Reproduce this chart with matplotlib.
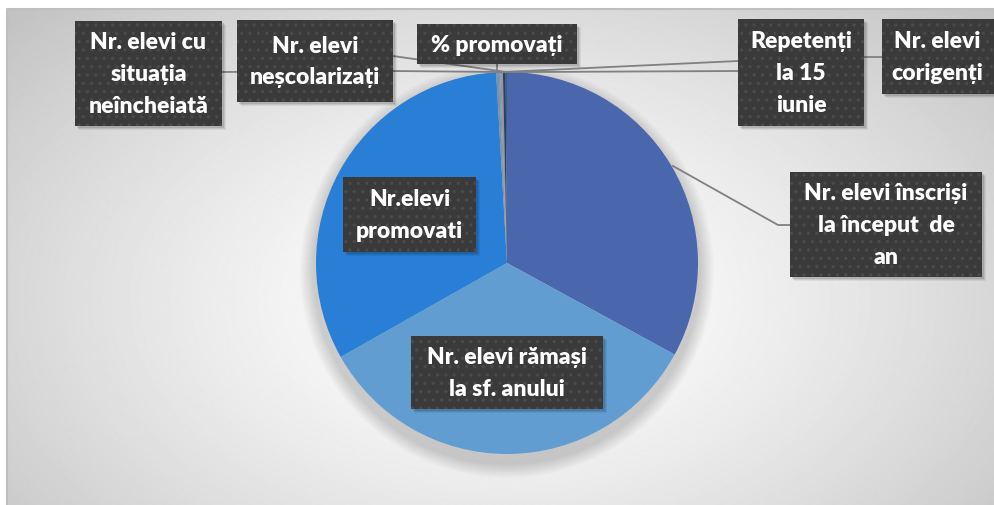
import numpy as np
import matplotlib
matplotlib.use('Agg')
import matplotlib.pyplot as plt
from matplotlib.patches import Rectangle, Circle

# ------------------------------------------------------------
# DATE
# ------------------------------------------------------------
categorii = [
    "Nr. elevi înscriși\nla început  de\nan",
    "Nr. elevi rămași\nla sf. anului",
    "Nr.elevi\npromovati",
    "% promovați",
    "Nr. elevi\ncorigenți",
    "Repetenți\nla 15\niunie",
    "Nr. elevi cu\nsituația\nneîncheiată",
    "Nr. elevi\nneșcolarizați",
]
valori = [290, 298, 284, 2, 1, 2, 2, 1]
culori = ['#4a66ac', '#629dd1', '#297fd5', '#7f8fa9', '#5aa2ae', '#9d90a0',
          '#2c3d67', '#3b5e7d']

W, H = 994, 506
plt.rcParams['hatch.linewidth'] = 1.2
FONT = ['Lato', 'DejaVu Sans']


def Y(py):
    # pixel de sus -> coordonata axei
    return H - py


fig = plt.figure(figsize=(W / 100, H / 100), dpi=100)
fig.patch.set_facecolor('white')
ax = fig.add_axes([0, 0, 1, 1])

# ------------------------------------------------------------
# FUNDAL (gradient radial)
# ------------------------------------------------------------
xx, yy = np.meshgrid(np.arange(7, W + 1), np.arange(10, H + 1))
d = np.sqrt(((xx - 500) / 520.0) ** 2 + ((yy - 300) / 330.0) ** 2)
g = np.clip(1.0 - 0.17 * d ** 1.4, 0, 1)
ax.imshow(g, cmap='gray', vmin=0, vmax=1, extent=[7, W, Y(H), Y(10)],
          origin='upper', zorder=0, interpolation='bilinear')
ax.plot([7, 7, W], [Y(H), Y(10), Y(10)], color='#bfbfbf', lw=1.5, zorder=1)

# ------------------------------------------------------------
# PIE
# ------------------------------------------------------------
cx, cy, r = 507, Y(264), 191
for k in range(14):
    ax.add_patch(Circle((cx, cy - 8), r + 16 - k, color='black', alpha=0.011,
                        lw=0, zorder=2))

wedges, _ = ax.pie(valori, colors=culori, startangle=90, counterclock=False,
                   center=(cx, cy), radius=r, frame=True,
                   wedgeprops=dict(linewidth=0, zorder=3))


def rim(i):
    w = wedges[i]
    a = np.deg2rad((w.theta1 + w.theta2) / 2)
    return cx + r * np.cos(a), cy + r * np.sin(a)


# ------------------------------------------------------------
# LINII DE LEGATURA
# ------------------------------------------------------------
lc = dict(color='#808080', lw=1.3, zorder=4)
ax.plot([673, 778, 790], [Y(167), Y(226), Y(226)], **lc)
x3, y3 = rim(3)
ax.plot([x3, x3], [y3, Y(65)], **lc)
x4, y4 = rim(4)
ax.plot([x4, 738, 850, 882], [y4, Y(72), Y(58), Y(58)], **lc)
x5, y5 = rim(5)
ax.plot([x5, 738], [y5, Y(62)], **lc)
x6, y6 = rim(6)
ax.plot([x6, 393, 222], [y6, Y(72), Y(73)], **lc)
x7, y7 = rim(7)
ax.plot([x7, 393], [y7, Y(57)], **lc)

# ------------------------------------------------------------
# ETICHETE
# ------------------------------------------------------------
casete = [
    (790, 173, 982, 278),
    (411, 337, 603, 410),
    (343, 178, 476, 253),
    (417, 25, 577, 65),
    (882, 20, 1000, 95),
    (738, 20, 864, 127),
    (75, 22, 222, 127),
    (237, 21, 393, 103),
]
for txt, (l, t, rr, b) in zip(categorii, casete):
    for k, a in enumerate([0.10, 0.08, 0.06]):
        ax.add_patch(Rectangle((l + 2 + k, Y(b) - 2 - k), rr - l, b - t,
                               color='black', alpha=a, lw=0, zorder=5))
    ax.add_patch(Rectangle((l, Y(b)), rr - l, b - t, facecolor='#3a3a3a',
                           edgecolor='#4a4a4a', hatch='..', lw=0, zorder=6))
    xc = (l + rr) / 2 if rr < W else 937
    ax.text(xc, Y((t + b) / 2), txt, ha='center', va='center', color='white',
            fontsize=16.5, fontweight='heavy', family=FONT, linespacing=1.62,
            zorder=7)

ax.set_xlim(0, W)
ax.set_ylim(0, H)
ax.set_aspect('auto')
ax.axis('off')

fig.savefig('out.png', dpi=100)
